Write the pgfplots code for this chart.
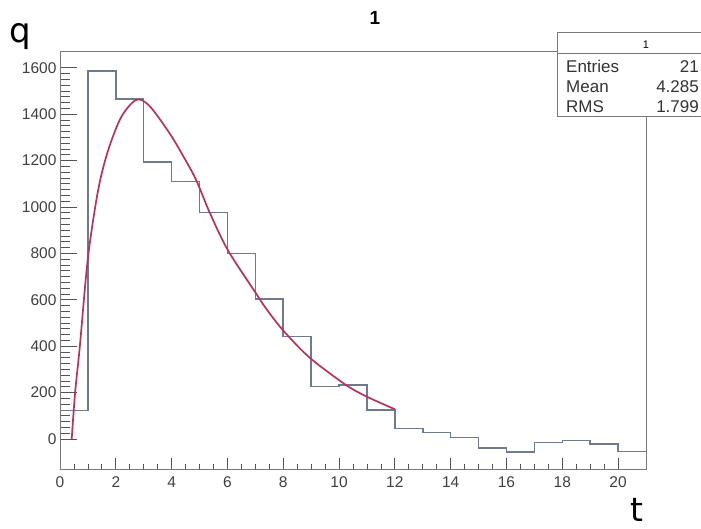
\documentclass[border=0pt]{standalone}
\usepackage{pgfplots}
\pgfplotsset{compat=1.18}
\usepackage{fontspec}
\setmainfont{Liberation Sans}
\newfontfamily\bigfont{DejaVu Sans}
\definecolor{histc}{RGB}{110,122,142}
\definecolor{fitc}{RGB}{185,50,95}
\definecolor{framec}{RGB}{120,120,120}
\begin{document}
\begin{tikzpicture}
\useasboundingbox (0,0) rectangle (701pt,529pt);
\pgfplotsset{
  myframe/.style={
    at={(60pt,59pt)}, anchor=south west,
    width=586pt, height=418pt, scale only axis,
    xmin=0, xmax=21, ymin=-134, ymax=1668,
    axis line style={draw=framec, line width=1pt},
    tick align=inside, tick pos=left,
    tick style={draw=framec!70!black, line width=0.8pt},
    tick label style={font=\fontsize{15.5}{18}\selectfont, text=black!75},
    /pgf/number format/assume math mode=true,
    scaled y ticks=false,
    yticklabel style={/pgf/number format/1000 sep={}},
    clip=false,
  }
}
% y axis ticks (longer)
\begin{axis}[myframe,
  xtick=\empty, ytick={0,200,...,1600}, minor y tick num=7,
  major tick length=17pt, minor tick length=10pt]
\end{axis}
\begin{axis}[myframe,
  ytick=\empty, xtick={0,2,...,20}, minor x tick num=3,
  major tick length=12pt, minor tick length=6pt,
  xticklabel style={yshift=-3pt}]
\addplot[const plot mark left, histc, line width=1.5pt] coordinates {
(0,122)(1,1585)(2,1465)(3,1193)(4,1110)(5,976)(6,800)(7,604)(8,441)(9,225)
(10,232)(11,125)(12,44)(13,28)(14,7)(15,-40)(16,-56)(17,-16)(18,-7)(19,-22)(20,-55)(21,-55)};
\addplot[fitc, line width=1.7pt, smooth, tension=0.5] coordinates {
(0.42,0)(0.54,198)(0.71,398)(1.0,780)(1.37,1075)(1.73,1246)(2.20,1389)(2.74,1462)
(3.21,1435)(3.93,1317)(4.46,1210)(4.88,1116)(5.36,977)(6.01,815)(7.02,628)(7.38,563)
(7.98,470)(8.93,352)(10.24,233)(11.0,182)(11.79,139)(12.0,128)};
\end{axis}
\node[anchor=base, font=\bigfont\fontsize{34}{40}\selectfont] at (20pt,486pt) {q};
\node[anchor=base, font=\bigfont\fontsize{33}{40}\selectfont] at (637pt,7pt) {t};
\node[anchor=base, font=\bfseries\fontsize{19}{24}\selectfont] at (375pt,504pt) {1};
\draw[framec, fill=white, line width=1pt] (557pt,412pt) rectangle (735pt,496pt);
\draw[framec, line width=1pt] (557pt,475pt) -- (735pt,475pt);
\node[anchor=base, font=\fontsize{11}{13}\selectfont] at (646pt,480pt) {1};
\begin{scope}[font=\fontsize{17}{20}\selectfont, text=black!80]
\node[anchor=base west, inner sep=0pt] at (566pt,456pt) {Entries};
\node[anchor=base east, inner sep=0pt] at (699pt,456pt) {21};
\node[anchor=base west, inner sep=0pt] at (566pt,436pt) {Mean};
\node[anchor=base east, inner sep=0pt] at (699pt,436pt) {4.285};
\node[anchor=base west, inner sep=0pt] at (566pt,416pt) {RMS};
\node[anchor=base east, inner sep=0pt] at (699pt,416pt) {1.799};
\end{scope}
\end{tikzpicture}
\end{document}
